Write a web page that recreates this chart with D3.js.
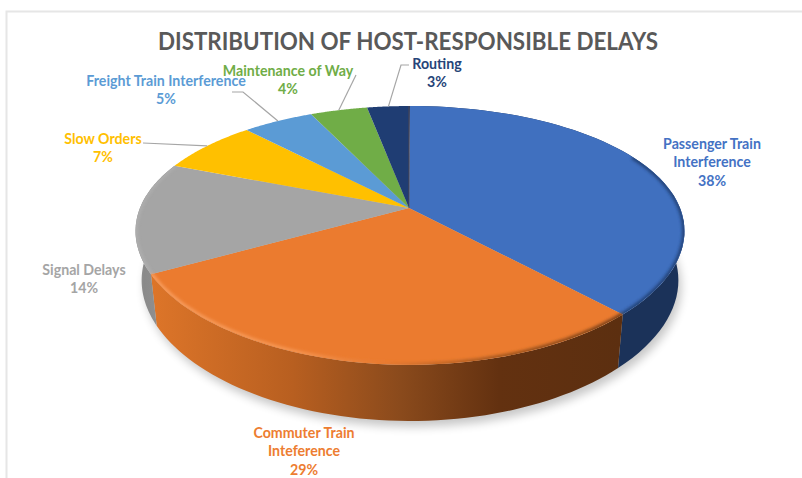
<!DOCTYPE html>
<html>
<head>
<meta charset="utf-8">
<style>
  html, body { margin: 0; padding: 0; background: #fff; }
  svg { display: block; }
  text { font-family: Lato, "Open Sans", sans-serif; font-weight: 700; }
</style>
<script src="https://cdnjs.cloudflare.com/ajax/libs/d3/7.8.5/d3.min.js"></script>
</head>
<body>
<svg id="chart" width="802" height="478"></svg>
<script>
const chartTitle = "DISTRIBUTION OF HOST-RESPONSIBLE DELAYS";
const categories = ["Passenger Train Interference", "Commuter Train Inteference", "Signal Delays", "Slow Orders", "Freight Train Interference", "Maintenance of Way", "Routing"];
const shares = [38, 29, 14, 7, 5, 4, 3];
const labelLines = [["Passenger Train", "Interference"], ["Commuter Train", "Inteference"], ["Signal Delays"], ["Slow Orders"], ["Freight Train Interference"], ["Maintenance of Way"], ["Routing"]];
const topColors = ["#4070bf", "#eb7b2f", "#a5a5a5", "#ffc000", "#5b9bd5", "#70ad47", "#1f3d73"];
const labelColors = ["#4472c4", "#ed7d31", "#a5a5a5", "#ffc000", "#5b9bd5", "#70ad47", "#264478"];
// label centre x and first baseline y, one per category
const labelX = [712, 304, 84, 103, 166, 288, 437];
const labelY = [149, 438, 275, 144, 86, 76, 69];
// leader polylines run from the label side towards the rim; null where a label has none
const leaderStarts = [null, null, null, [[143, 143]], [[232, 92], [243, 92]], [[356, 75]], [[409, 65], [401, 65]]];

const svg = d3.select("#chart");
const defs = svg.append("defs");

// Tilted disc: unit-circle points are pushed through a perspective divide,
// which keeps the hub above the visual centre of the ellipse.
const tiltX = 0.18, tiltY = 0.212;
const topDisc = { cx: 410, cy: 208, a: 270, b: 123.6 };
const baseDisc = { cx: 410, cy: 256, a: 264, b: 130 };
const project = (disc, angle) => {
  const u = Math.sin(angle), v = -Math.cos(angle);
  return [disc.cx + disc.a * u / (1 - tiltX * v), disc.cy + disc.b * v / (1 - tiltY * v)];
};
const arcPoints = (disc, a0, a1) => d3.range(0, 61).map(i => project(disc, a0 + (a1 - a0) * i / 60));
const pathOf = d3.line();

const slices = d3.pie().sort(null).value(d => d)(shares);

defs.append("filter").attr("id", "soft").attr("x", "-10%").attr("y", "-10%").attr("width", "120%").attr("height", "125%")
  .append("feGaussianBlur").attr("stdDeviation", 5);
defs.append("filter").attr("id", "bevel").attr("x", "-5%").attr("y", "-5%").attr("width", "110%").attr("height", "110%")
  .append("feGaussianBlur").attr("stdDeviation", 1.6);

const gradient = (id, x1, x2, stops) => {
  const g = defs.append("linearGradient").attr("id", id).attr("gradientUnits", "userSpaceOnUse")
    .attr("x1", x1).attr("x2", x2).attr("y1", 0).attr("y2", 0);
  stops.forEach(([o, c]) => g.append("stop").attr("offset", o).attr("stop-color", c));
};
gradient("wall1", 152, 621, [[0, "#dd7529"], [0.3, "#b85f20"], [0.53, "#8a4a1c"], [0.74, "#633110"], [1, "#5c2f10"]]);
gradient("rim1", 152, 621, [[0, "#f79a5a"], [0.3, "#f59450"], [0.5, "#e67a30"], [0.72, "#a95a20"], [1, "#7a4015"]]);
gradient("wall2", 135, 157, [[0, "#a0a0a0"], [0.4, "#8a8a8a"], [1, "#8f8f8f"]]);
const wallFills = ["#1b3259", "url(#wall1)", "url(#wall2)"];
const rimStrokes = ["#1f3a6a", "url(#rim1)", "#b8b8b8"];
const rimStartOffsets = [1.1, 0, 0];
const rimOpacity = [0.8, 1, 0.45];

// chart frame
svg.append("path").attr("d", "M6.5,478V11.5H802").attr("fill", "none").attr("stroke", "#e6e6e6").attr("stroke-width", 2);

// cast shadow
svg.append("path")
  .attr("d", pathOf(arcPoints(baseDisc, 0, 2 * Math.PI)) + "Z")
  .attr("transform", "translate(3,6)")
  .attr("fill", "#000").attr("opacity", 0.22).attr("filter", "url(#soft)");

// side walls for the three slices that face the viewer
slices.slice(0, 3).forEach((s, i) => {
  const upper = arcPoints(topDisc, s.startAngle, s.endAngle);
  const lower = arcPoints(baseDisc, s.startAngle, s.endAngle).reverse();
  svg.append("path").attr("d", pathOf(upper.concat(lower)) + "Z").attr("fill", wallFills[i]);
});

// top faces
const hub = [topDisc.cx - 1, topDisc.cy];
slices.forEach((s, i) => {
  svg.append("path")
    .attr("d", pathOf([hub].concat(arcPoints(topDisc, s.startAngle, s.endAngle))) + "Z")
    .attr("fill", topColors[i]);
});

// bevelled edge along the front of the disc
defs.append("clipPath").attr("id", "topClip").append("path")
  .attr("d", pathOf(arcPoints(topDisc, 0, 2 * Math.PI)) + "Z");
const bevel = svg.append("g").attr("clip-path", "url(#topClip)");
slices.slice(0, 3).forEach((s, i) => {
  bevel.append("path")
    .attr("d", pathOf(arcPoints(topDisc, s.startAngle + rimStartOffsets[i], s.endAngle)))
    .attr("fill", "none").attr("stroke", rimStrokes[i]).attr("stroke-width", 5)
    .attr("opacity", rimOpacity[i])
    .attr("filter", "url(#bevel)");
});

// seam at twelve o'clock
const seamEnd = project(topDisc, 0);
svg.append("line").attr("x1", hub[0]).attr("y1", hub[1]).attr("x2", seamEnd[0] - 1).attr("y2", seamEnd[1])
  .attr("stroke", "#6a4a3a").attr("stroke-width", 1).attr("opacity", 0.6);

// leader lines
slices.forEach((s, i) => {
  if (!leaderStarts[i]) return;
  const rim = project(topDisc, (s.startAngle + s.endAngle) / 2);
  svg.append("path").attr("d", pathOf(leaderStarts[i].concat([rim])))
    .attr("fill", "none").attr("stroke", "#a6a6a6").attr("stroke-width", 1.2);
});

// title
svg.append("text").attr("x", 408).attr("y", 50).attr("text-anchor", "middle")
  .attr("font-size", 24).attr("fill", "#595959")
  .attr("textLength", 500).attr("lengthAdjust", "spacingAndGlyphs").text(chartTitle);

// slice labels
categories.forEach((name, i) => {
  const lines = labelLines[i].concat([shares[i] + "%"]);
  const t = svg.append("text").attr("text-anchor", "middle").attr("font-size", 14.2).attr("fill", labelColors[i]);
  lines.forEach((line, j) => {
    t.append("tspan").attr("x", labelX[i]).attr("y", labelY[i] + j * 18.3).text(line);
  });
});
</script>
</body>
</html>
